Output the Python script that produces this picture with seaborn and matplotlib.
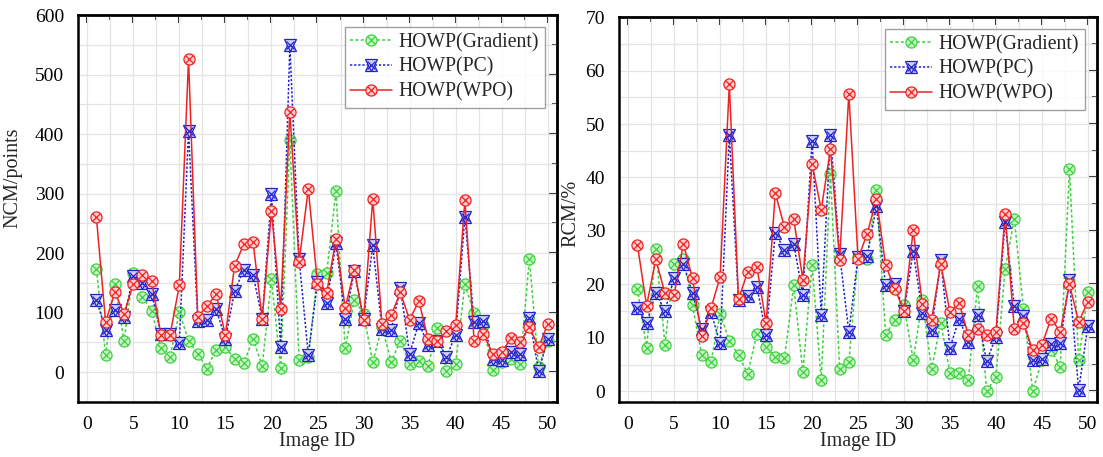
import numpy as np
import pandas as pd
import seaborn as sns
import matplotlib.pyplot as plt
from matplotlib.lines import Line2D
from matplotlib.ticker import MultipleLocator

# Image IDs 1..50
image_id = list(range(1, 51))

# NCM (points)
ncm_gradient = [173, 29, 149, 53, 167, 126, 103, 40, 26, 101,
                53, 31, 6, 38, 42, 22, 16, 55, 11, 156,
                7, 390, 20, 25, 165, 167, 304, 40, 122, 98,
                17, 76, 18, 53, 13, 19, 10, 74, 2, 14,
                148, 99, 79, 3, 17, 22, 13, 191, 8, 53]
ncm_pc = [122, 71, 105, 92, 161, 150, 132, 65, 65, 49,
          406, 86, 88, 106, 56, 136, 172, 164, 90, 299,
          43, 549, 191, 29, 152, 116, 217, 90, 170, 90,
          213, 73, 71, 142, 31, 83, 46, 53, 26, 63,
          261, 84, 86, 22, 20, 34, 31, 91, 2, 55]
ncm_wpo = [260, 84, 135, 98, 148, 164, 153, 63, 63, 146,
           526, 93, 111, 131, 62, 179, 215, 219, 90, 271,
           107, 437, 185, 308, 149, 133, 224, 108, 172, 88,
           291, 81, 96, 134, 88, 120, 56, 53, 70, 79,
           289, 53, 65, 31, 34, 57, 51, 76, 42, 81]

# RCM (%)
rcm_gradient = [19.2, 8.1, 26.7, 8.7, 23.9, 24.8, 16.1, 6.7, 5.5, 14.5,
                9.5, 6.7, 3.3, 10.8, 8.3, 6.4, 6.2, 19.8, 3.6, 23.7,
                2.1, 40.7, 4.1, 5.4, 25.1, 24.8, 37.6, 10.6, 13.3, 16.1,
                5.8, 17.0, 4.1, 12.8, 3.5, 3.5, 2.1, 19.7, 0.0, 2.7,
                22.9, 32.3, 15.3, 0.0, 5.8, 7.7, 4.6, 41.5, 5.8, 18.5]
rcm_pc = [15.5, 12.8, 18.3, 15.1, 21.2, 23.9, 18.3, 11.7, 14.8, 9.0,
          48.0, 17.0, 17.8, 19.6, 10.6, 29.7, 26.4, 27.6, 18.1, 46.9,
          14.2, 48.0, 25.6, 11.1, 25.1, 25.4, 34.6, 19.8, 20.0, 15.0,
          26.2, 14.7, 11.5, 24.5, 8.1, 13.6, 9.2, 14.2, 5.6, 10.2,
          31.7, 15.9, 14.0, 5.9, 6.1, 8.9, 9.1, 20.8, 0.2, 12.3]
rcm_wpo = [27.4, 16.0, 24.7, 18.3, 18.1, 27.6, 21.1, 10.3, 15.5, 21.4,
           57.4, 17.3, 22.3, 23.3, 12.7, 37.1, 30.7, 32.3, 20.9, 42.5,
           34.0, 45.3, 24.6, 55.7, 24.8, 29.5, 36.0, 23.6, 19.2, 15.0,
           30.1, 16.3, 13.4, 23.9, 14.8, 16.5, 10.5, 11.7, 10.5, 11.1,
           33.2, 11.7, 12.7, 7.7, 8.7, 13.6, 11.1, 20.0, 13.0, 16.7]

series_names = ["HOWP(Gradient)", "HOWP(PC)", "HOWP(WPO)"]
colors = ["#3fd13f", "#2222cc", "#ee2222"]
face_colors = ["#c8f5c8", "#d0d0ff", "#ffd0d0"]
line_styles = [(0, (2, 1.5)), (0, (1.5, 1.2)), "-"]

sns.set_style("white")
plt.rcParams['font.family'] = ['Liberation Serif', 'DejaVu Serif']
plt.rcParams['axes.linewidth'] = 1.8

fig = plt.figure(figsize=(11.03, 4.57), dpi=100)
ax1 = fig.add_axes([0.0707, 0.1204, 0.4343, 0.8466])
ax2 = fig.add_axes([0.5612, 0.1204, 0.4334, 0.8422])

MS = 8
MSX = 5.8


def draw_series(ax, values, k):
    df = pd.DataFrame({"id": image_id, "val": values})
    sns.lineplot(data=df, x="id", y="val", ax=ax, color=colors[k],
                 linestyle=line_styles[k], linewidth=1.1, zorder=3 + k)
    if k == 1:
        for m in ["^", "v"]:
            ax.plot(df["id"], df["val"], linestyle="none", marker=m, ms=MS,
                    mfc=face_colors[k], mec=colors[k], mew=0.9, zorder=4 + k)
    else:
        ax.plot(df["id"], df["val"], linestyle="none", marker="o", ms=MS,
                mfc=face_colors[k], mec=colors[k], mew=0.9, zorder=4 + k)
    ax.plot(df["id"], df["val"], linestyle="none", marker="x", ms=MSX,
            mec=colors[k], mew=0.9, zorder=5 + k)


def legend_handles():
    handles = []
    for k in range(3):
        ln = Line2D([], [], color=colors[k], linestyle=line_styles[k], linewidth=1.1)
        mx = Line2D([], [], linestyle="none", marker="x", ms=MSX, mec=colors[k], mew=0.9)
        if k == 1:
            m1 = Line2D([], [], linestyle="none", marker="^", ms=MS, mfc=face_colors[k], mec=colors[k], mew=0.9)
            m2 = Line2D([], [], linestyle="none", marker="v", ms=MS, mfc=face_colors[k], mec=colors[k], mew=0.9)
            handles.append((ln, m1, m2, mx))
        else:
            m1 = Line2D([], [], linestyle="none", marker="o", ms=MS, mfc=face_colors[k], mec=colors[k], mew=0.9)
            handles.append((ln, m1, mx))
    return handles


def style_axis(ax, ylim, ymaj, ymin, ylabel, ylab_x, ylab_y):
    ax.set_xlim(-1, 51)
    ax.set_ylim(*ylim)
    ax.xaxis.set_major_locator(MultipleLocator(5))
    ax.xaxis.set_minor_locator(MultipleLocator(2.5))
    ax.yaxis.set_major_locator(MultipleLocator(ymaj))
    ax.yaxis.set_minor_locator(MultipleLocator(ymin))
    ax.grid(True, which="both", color="#e4e4e4", linewidth=0.9, zorder=0)
    ax.set_axisbelow(True)
    ax.tick_params(which="major", direction="out", length=6, width=1.5,
                   labelsize=14, colors="black", pad=4)
    ax.tick_params(which="minor", direction="out", length=3.5, width=1.2)
    ax.set_xlabel("Image ID", fontsize=14.5)
    ax.set_ylabel(ylabel, fontsize=14.5)
    ax.xaxis.set_label_coords(0.5, -0.078)
    ax.yaxis.set_label_coords(ylab_x, ylab_y)
    for s in ax.spines.values():
        s.set_color("black")
        s.set_linewidth(1.8)
    # mirrored ticks on top and right, pointing inward
    top = ax.secondary_xaxis("top")
    top.xaxis.set_major_locator(MultipleLocator(5))
    top.xaxis.set_minor_locator(MultipleLocator(2.5))
    top.tick_params(which="major", direction="in", length=6, width=1.5, labeltop=False)
    top.tick_params(which="minor", direction="in", length=3.5, width=1.2)
    right = ax.secondary_yaxis("right")
    right.yaxis.set_major_locator(MultipleLocator(ymaj))
    right.yaxis.set_minor_locator(MultipleLocator(ymin))
    right.tick_params(which="major", direction="in", length=6, width=1.5, labelright=False)
    right.tick_params(which="minor", direction="in", length=3.5, width=1.2)
    leg = ax.legend(legend_handles(), series_names, loc="upper right",
                    fontsize=14.2, frameon=True, fancybox=False, handlelength=2.1,
                    borderpad=0.3, labelspacing=0.28, handletextpad=0.35,
                    borderaxespad=0.6)
    leg.get_frame().set_edgecolor("#888888")
    leg.get_frame().set_linewidth(1.0)


for k, vals in enumerate([ncm_gradient, ncm_pc, ncm_wpo]):
    draw_series(ax1, vals, k)
for k, vals in enumerate([rcm_gradient, rcm_pc, rcm_wpo]):
    draw_series(ax2, vals, k)

style_axis(ax1, (-50, 600), 100, 50, "NCM/points", -0.115, 0.58)
style_axis(ax2, (-2, 70), 10, 5, "RCM/%", -0.08, 0.49)

fig.savefig("out.png", dpi=100)
